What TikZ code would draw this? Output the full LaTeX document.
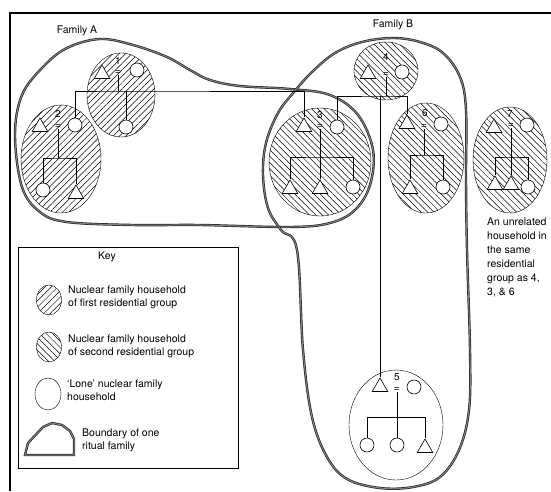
\documentclass[tikz,border=0pt]{standalone}
\usepackage{fontspec}
\setmainfont{TeX Gyre Heros}
\usetikzlibrary{shapes.geometric,patterns.meta}

\begin{document}
\begin{tikzpicture}[x=1pt,y=-1pt,every node/.style={font=\fontsize{10.5}{13}\selectfont},
  hhfirst/.style={draw,ellipse,inner sep=0pt,pattern={Lines[angle=45,distance=4.5pt,line width=0.5pt]}},
  hhsecond/.style={draw,ellipse,inner sep=0pt,pattern={Lines[angle=-45,distance=4.5pt,line width=0.5pt]}},
  hhlone/.style={draw,ellipse,inner sep=0pt},
  male/.style={draw,line width=0.6pt,fill=white,regular polygon,regular polygon sides=3,minimum size=18pt,inner sep=0pt},
  female/.style={draw,line width=0.6pt,fill=white,circle,minimum size=14pt,inner sep=0pt},
  wed/.style={inner sep=0.3pt,font=\fontsize{10.5}{10}\selectfont},
  hhnum/.style={inner sep=0pt,font=\fontsize{10}{10}\selectfont},
  ritual/.style={draw=black!85,line width=0.7pt,double=black!50,double distance=1pt}]
  \useasboundingbox (0,0) rectangle (551,491);
  \draw[line width=1.1pt] (551,13) -- (10,13) -- (10,491);

  \draw[ritual] plot[smooth cycle,tension=0.6] coordinates {(15,135) (22,95) (43,67) (67,48) (100,39) (133,45) (167,57) (190,70) (210,80) (240,86) (290,89) (330,95) (358,115) (373,150) (370,185) (355,210) (330,223) (290,227) (200,225) (133,225) (67,222) (40,212) (22,187)};
  \draw[ritual] plot[smooth cycle,tension=0.6] coordinates {(297,250) (281,230) (268,208) (263,175) (266,143) (278,113) (294,92) (312,72) (335,53) (362,42) (393,38) (420,42) (443,53) (460,77) (466,110) (466,180) (467,250) (470,350) (469,410) (459,450) (440,477) (413,487) (380,488) (347,479) (327,457) (312,417) (303,350)};
  \node (famA) at (77,31) {Family A};
  \node (famB) at (393,25) {Family B};

  \node[hhfirst,minimum width=68pt,minimum height=84pt] (hh1) at (121,95) {};
  \node[hhfirst,minimum width=80pt,minimum height=108pt] (hh2) at (61,159) {};
  \node[hhsecond,minimum width=102pt,minimum height=108pt] (hh3) at (320,162) {};
  \node[hhsecond,minimum width=64pt,minimum height=58pt] (hh4) at (386,71) {};
  \node[hhsecond,minimum width=76pt,minimum height=110pt] (hh6) at (426,158) {};
  \node[hhsecond,minimum width=74pt,minimum height=106pt] (hh7) at (510,160) {};
  \node[hhlone,minimum width=94pt,minimum height=110pt] (hh5) at (396,425) {};

  \node[hhnum] (n1) at (118,61) {1};
  \node[male] (m1) at (102,74) {}; \node[wed] (eq1) at (118,73) {=}; \node[female] (w1) at (137,70) {};
  \node[female] (d1) at (126,127) {};

  \node[hhnum] (n2) at (58,114) {2};
  \node[male] (m2) at (40,127) {}; \node[wed] (eq2) at (58,127) {=}; \node[female] (w2) at (75,125) {};
  \node[female] (k2a) at (43,190) {}; \node[male] (k2b) at (76,194) {};

  \node[hhnum] (n3) at (320,115) {3};
  \node[male] (m3) at (304,127) {}; \node[wed] (eq3) at (320,127) {=}; \node[female] (w3) at (337,127) {};
  \node[male] (k3a) at (290,189) {}; \node[male] (k3b) at (320,189) {}; \node[female] (k3c) at (353,187) {};

  \node[hhnum] (n4) at (386,57) {4};
  \node[male] (m4) at (368,74) {}; \node[wed] (eq4) at (386,75) {=}; \node[female] (w4) at (402,72) {};

  \node[hhnum] (n6) at (425,113) {6};
  \node[male] (m6) at (407,124) {}; \node[wed] (eq6) at (424,127) {=}; \node[female] (w6) at (441,124) {};
  \node[male] (k6a) at (410,189) {}; \node[female] (k6b) at (443,187) {};

  \node[hhnum] (n7) at (510,114) {7};
  \node[male] (m7) at (494,128) {}; \node[wed] (eq7) at (511,126) {=}; \node[female] (w7) at (527,125) {};
  \node[male] (k7a) at (495,185) {}; \node[male] (k7b) at (511,185) {}; \node[female] (k7c) at (528,187) {};

  \node[hhnum] (n5) at (397,377) {5};
  \node[male] (m5) at (380,387) {}; \node[wed] (eq5) at (397,390) {=}; \node[female] (w5) at (414,387) {};
  \node[female] (k5a) at (367,445) {}; \node[female] (k5b) at (397,445) {}; \node[male] (k5c) at (425,448) {};

  \coordinate (sib1) at (118,91);
  \coordinate (sib2) at (58,158);
  \coordinate (sib3) at (320,157);
  \coordinate (sib4) at (386,96);
  \coordinate (sib5) at (397,417);
  \coordinate (sib6) at (424,155);
  \coordinate (sib7) at (511,157);
  \draw (eq1.south) -- (sib1); \draw (w2.north) |- (sib1) -| (m3.north); \draw (d1.north) -- (d1.north |- sib1);
  \draw (eq2.south) -- (sib2); \draw (k2a.north) |- (sib2) -| (k2b.north);
  \draw (eq3.south) -- (sib3); \draw (k3a.north) |- (sib3) -| (k3c.north); \draw (k3b.north) -- (sib3);
  \draw (eq4.south) -- (sib4); \draw (w3.north) |- (sib4) -| (m6.north); \draw (sib4 -| m5.north) -- (m5.north);
  \draw (eq6.south) -- (sib6); \draw (k6a.north) |- (sib6) -| (k6b.north);
  \draw (eq7.south) -- (sib7); \draw (k7a.north) |- (sib7) -| (k7c.north); \draw (k7b.north) -- (sib7);
  \draw (eq5.south) -- (sib5); \draw (k5a.north) |- (sib5) -| (k5c.north); \draw (k5b.north) -- (sib5);

  \node[anchor=west,align=left,inner sep=0pt,font=\fontsize{10.5}{14}\selectfont] (note7) at (487,257) {An unrelated\\household in\\the same\\residential\\group as 4,\\3, \& 6};

  \node[draw,line width=0.9pt,minimum width=220pt,minimum height=221pt,inner sep=0pt] (keybox) at (128,357.5) {};
  \node (keyttl) at (107,257) {Key};
  \node[hhfirst,minimum width=25pt,minimum height=30pt] (lg1) at (49,300) {};
  \node[anchor=west,align=left,inner sep=0pt] (lt1) at (68,297) {Nuclear family household\\of first residential group};
  \node[hhsecond,minimum width=25pt,minimum height=30pt] (lg2) at (49,347) {};
  \node[anchor=west,align=left,inner sep=0pt] (lt2) at (68,346) {Nuclear family household\\of second residential group};
  \node[hhlone,minimum width=26pt,minimum height=32pt] (lg3) at (48,394) {};
  \node[anchor=west,align=left,inner sep=0pt] (lt3) at (67,390) {`Lone' nuclear family\\household};
  \draw[ritual] (25,455) -- (28,443) -- (43,427) -- (52,423) -- (62,425) -- (70,431) -- (74,439) -- (74,455) -- cycle;
  \node[anchor=west,align=left,inner sep=0pt] (lt4) at (82,440) {Boundary of one\\ritual family};
\end{tikzpicture}
\end{document}
